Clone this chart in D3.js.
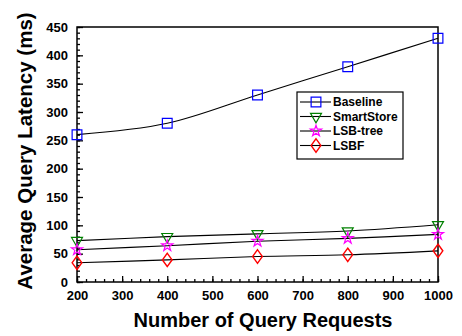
<!DOCTYPE html>
<html lang="en">
<head>
  <meta charset="UTF-8">
  <title>Average Query Latency</title>
  <script src="https://d3js.org/d3.v7.min.js"></script>
  <style>
    body { margin: 0; background: #fff; }
    text { font-family: Arial, "Liberation Sans", sans-serif; font-weight: bold; }
    .tick text { font-size: 13px; }
    .axis-title { font-size: 20.5px; }
    .x-title { font-size: 20px; }
    .legend text { font-size: 12px; }
  </style>
</head>
<body>
  <svg width="462" height="336"></svg>
  <script>
    const requests = [200, 400, 600, 800, 1000];
    const baseline = [260, 280, 330, 380, 430];
    const smartStore = [73, 80, 85, 90, 101];
    const lsbTree = [57, 64, 72, 77, 84];
    const lsbf = [34, 39, 45, 48, 55];
    const xTicks = [200, 300, 400, 500, 600, 700, 800, 900, 1000];
    const yTicks = [0, 50, 100, 150, 200, 250, 300, 350, 400, 450];

    const series = [
      { name: 'Baseline', values: baseline, color: '#0000ff', symbol: 'square' },
      { name: 'SmartStore', values: smartStore, color: '#008000', symbol: 'triangle' },
      { name: 'LSB-tree', values: lsbTree, color: '#ff00ff', symbol: 'star' },
      { name: 'LSBF', values: lsbf, color: '#ff0000', symbol: 'diamond' }
    ];

    const svg = d3.select('svg');
    const m = { left: 77, right: 24, top: 27, bottom: 54 };
    const w = 462 - m.left - m.right;
    const h = 336 - m.top - m.bottom;

    const x = d3.scaleLinear().domain([200, 1000]).range([0, w]);
    const y = d3.scaleLinear().domain([0, 450]).range([h, 0]);

    const g = svg.append('g').attr('transform', `translate(${m.left},${m.top})`);

    // minor ticks
    g.append('g')
      .attr('transform', `translate(0,${h})`)
      .call(d3.axisBottom(x).tickValues(d3.range(200, 1001, 20)).tickSize(-3).tickFormat(''))
      .call(a => a.select('.domain').remove());
    g.append('g')
      .call(d3.axisLeft(y).tickValues(d3.range(0, 451, 10)).tickSize(-3).tickFormat(''))
      .call(a => a.select('.domain').remove());

    // major ticks
    g.append('g')
      .attr('transform', `translate(0,${h})`)
      .call(d3.axisBottom(x).tickValues(xTicks).tickSize(-6).tickPadding(9).tickFormat(d3.format('d')))
      .call(a => a.select('.domain').remove());
    g.append('g')
      .call(d3.axisLeft(y).tickValues(yTicks).tickSize(-6).tickPadding(9))
      .call(a => a.select('.domain').remove());

    g.selectAll('.tick line').attr('stroke', '#000').attr('stroke-width', 1.3);
    g.selectAll('.tick text').attr('fill', '#000');

    g.append('rect')
      .attr('width', w).attr('height', h)
      .attr('fill', 'none').attr('stroke', '#000').attr('stroke-width', 1.5);

    const line = d3.line()
      .x((d, i) => x(requests[i]))
      .y(d => y(d))
      .curve(d3.curveCatmullRom);

    const symbolType = {
      square: d3.symbolSquare,
      triangle: d3.symbolTriangle,
      star: d3.symbolStar,
      diamond: d3.symbolDiamond
    };
    const symbolSize = { square: 95, triangle: 52, star: 38, diamond: 52 };

    function marker(sel, s) {
      sel.attr('d', d3.symbol().type(symbolType[s.symbol]).size(symbolSize[s.symbol])())
        .attr('fill', 'none')
        .attr('stroke', s.color)
        .attr('stroke-width', 1.2);
    }

    function markerTransform(s, px, py) {
      if (s.symbol === 'triangle') return `translate(${px},${py}) rotate(180)`;
      if (s.symbol === 'diamond') return `translate(${px},${py}) scale(1.25,1)`;
      return `translate(${px},${py})`;
    }

    series.forEach(s => {
      g.append('path')
        .datum(s.values)
        .attr('fill', 'none')
        .attr('stroke', '#000')
        .attr('stroke-width', 1.1)
        .attr('d', line);

      g.selectAll(null)
        .data(s.values)
        .enter()
        .append('path')
        .call(marker, s)
        .attr('transform', (d, i) => markerTransform(s, x(requests[i]), y(d)));
    });

    // legend
    const legend = svg.append('g').attr('class', 'legend').attr('transform', 'translate(297,92)');
    legend.append('rect')
      .attr('width', 106).attr('height', 67)
      .attr('fill', '#fff').attr('stroke', '#000').attr('stroke-width', 1.2);

    series.forEach((s, i) => {
      const row = legend.append('g').attr('transform', `translate(0,${10 + i * 14.5})`);
      row.append('line')
        .attr('x1', 3).attr('x2', 34)
        .attr('stroke', '#000').attr('stroke-width', 1.1);
      row.append('path')
        .call(marker, s)
        .attr('transform', markerTransform(s, 19, 0));
      row.append('text')
        .attr('x', 36).attr('dy', '0.35em')
        .text(s.name);
    });

    svg.append('text')
      .attr('class', 'axis-title')
      .attr('text-anchor', 'middle')
      .attr('transform', 'translate(32,151) rotate(-90)')
      .text('Average Query Latency (ms)');

    svg.append('text')
      .attr('class', 'axis-title x-title')
      .attr('text-anchor', 'middle')
      .attr('x', 263)
      .attr('y', 327)
      .text('Number of Query Requests');
  </script>
</body>
</html>
